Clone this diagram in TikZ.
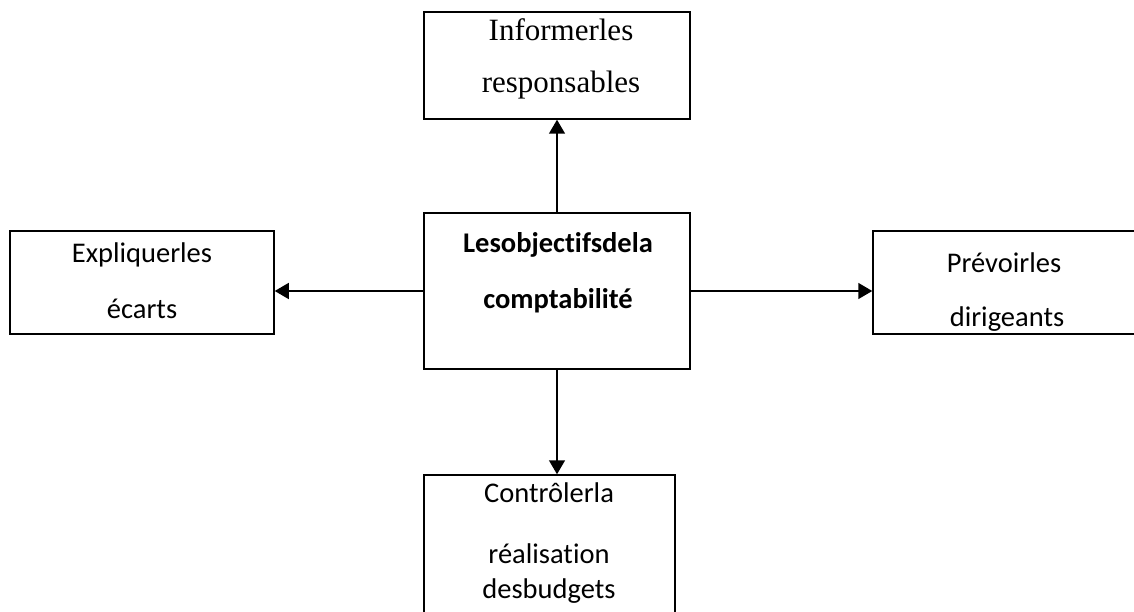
\documentclass[tikz,border=0pt]{standalone}
\usepackage{fontspec}
\setmainfont{Liberation Serif}
\newfontfamily\calfont[Ligatures=NoCommon]{Carlito}
\usetikzlibrary{arrows.meta}
\tikzset{
  box/.style={draw, line width=1.5pt, inner sep=0pt},
  serif/.style={inner sep=0pt, font=\fontsize{31}{33}\selectfont},
  cal/.style={inner sep=0pt, font=\calfont\fontsize{28.5}{30}\selectfont},
  calb/.style={inner sep=0pt, font=\calfont\bfseries\fontsize{28.5}{30}\selectfont},
  arr/.style={line width=1.5pt, -{Triangle[width=16pt,length=14pt]}}
}
\begin{document}
\begin{tikzpicture}[x=1pt,y=-1pt]
\useasboundingbox (0,0) rectangle (1134,612);
% boxes
\node[box, minimum width=266pt, minimum height=156pt] (c) at (557,291) {};
\node[box, minimum width=266pt, minimum height=107pt] (t) at (557,65.5) {};
\node[box, minimum width=264pt, minimum height=103pt] (l) at (142,282.5) {};
\node[box, minimum width=267pt, minimum height=103pt] (r) at (1006.5,282.5) {};
\node[box, minimum width=251pt, minimum height=170pt] (b) at (549.5,560) {};
% texts
\node[serif, anchor=base] (t1) at (561,41) {Informerles};
\node[serif, anchor=base] (t2) at (561,93) {responsables};
\node[calb, anchor=base] (c1) at (558,253) {Lesobjectifsdela};
\node[calb, anchor=base] (c2) at (558,308) {comptabilité};
\node[cal, anchor=base] (l1) at (142,262) {Expliquerles};
\node[cal, anchor=base] (l2) at (142,318) {écarts};
\node[cal, anchor=base] (r1) at (1004,272) {Prévoirles};
\node[cal, anchor=base] (r2) at (1007,326) {dirigeants};
\node[cal, anchor=base] (b1) at (549,502) {Contrôlerla};
\node[cal, anchor=base] (b2) at (549,563) {réalisation};
\node[cal, anchor=base] (b3) at (549,598) {desbudgets};
% arrows
\draw[arr] (c.north) -- (c.north |- t.south);
\draw[arr] (c.south) -- (c.south |- b.north);
\draw[arr] (c.west) -- (l.east |- c.west);
\draw[arr] (c.east) -- (r.west |- c.east);
\end{tikzpicture}
\end{document}
